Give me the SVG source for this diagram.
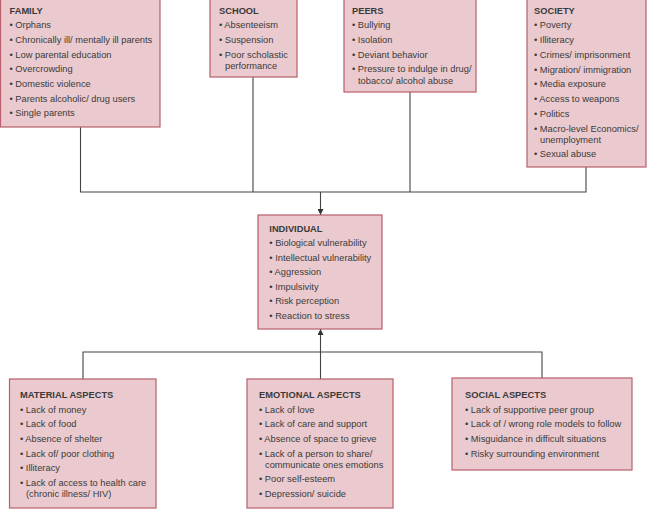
<svg xmlns="http://www.w3.org/2000/svg" width="647" height="509" viewBox="0 0 647 509">
<style>
.box{fill:#eacace;stroke:#b85e6c;stroke-width:1.2}
text{font-family:"Liberation Sans",Arial,sans-serif;font-size:9.3px;fill:#3a3a3a}
.t{font-weight:bold}
.c{fill:none;stroke:#444;stroke-width:1.1}
</style>
<defs>
<marker id="ah" viewBox="0 0 6 6" refX="6" refY="3" markerWidth="6" markerHeight="6" markerUnits="userSpaceOnUse" orient="auto">
<path d="M0,0 L6,3 L0,6 Z" fill="#333"/>
</marker>
</defs>
<rect width="647" height="509" fill="#fff"/>
<g id="connectors">
<path class="c" d="M80.5,127 V192 H586 V167"/>
<path class="c" d="M253,77 V192"/>
<path class="c" d="M410,92 V192"/>
<path class="c" d="M320.5,192 V215" marker-end="url(#ah)"/>
<path class="c" d="M83,379 V352 H542 V378"/>
<path class="c" d="M320.5,379 V352"/>
<path class="c" d="M320.5,352 V329" marker-end="url(#ah)"/>
</g>
<g id="family">
<rect class="box" x="0.5" y="-1" width="159.5" height="128"/>
<text class="t" x="9.5" y="13.5">FAMILY</text>
<text x="9.5" y="28.3">• Orphans</text>
<text x="9.5" y="43">• Chronically ill/ mentally ill parents</text>
<text x="9.5" y="57.6">• Low parental education</text>
<text x="9.5" y="72.3">• Overcrowding</text>
<text x="9.5" y="87">• Domestic violence</text>
<text x="9.5" y="101.7">• Parents alcoholic/ drug users</text>
<text x="9.5" y="116.3">• Single parents</text>
</g>
<g id="school">
<rect class="box" x="210" y="-1" width="87" height="78"/>
<text class="t" x="219" y="13.5">SCHOOL</text>
<text x="219" y="28.3">• Absenteeism</text>
<text x="219" y="43">• Suspension</text>
<text x="219" y="57.6">• Poor scholastic</text>
<text x="225" y="68.6">performance</text>
</g>
<g id="peers">
<rect class="box" x="344" y="-1" width="132" height="93"/>
<text class="t" x="352" y="13.5">PEERS</text>
<text x="352" y="28.3">• Bullying</text>
<text x="352" y="43">• Isolation</text>
<text x="352" y="57.6">• Deviant behavior</text>
<text x="352" y="72.3">• Pressure to indulge in drug/</text>
<text x="358" y="83.5">tobacco/ alcohol abuse</text>
</g>
<g id="society">
<rect class="box" x="527" y="-1" width="119" height="168"/>
<text class="t" x="534" y="13.5">SOCIETY</text>
<text x="534" y="28.3">• Poverty</text>
<text x="534" y="43.3">• Illiteracy</text>
<text x="534" y="57.6">• Crimes/ imprisonment</text>
<text x="534" y="72.6">• Migration/ immigration</text>
<text x="534" y="87.3">• Media exposure</text>
<text x="534" y="102">• Access to weapons</text>
<text x="534" y="116.6">• Politics</text>
<text x="534" y="131.6">• Macro-level Economics/</text>
<text x="540" y="142.6">unemployment</text>
<text x="534" y="157.3">• Sexual abuse</text>
</g>
<g id="individual">
<rect class="box" x="258" y="215" width="124" height="114"/>
<text class="t" x="269.3" y="231.5">INDIVIDUAL</text>
<text x="269.3" y="246">• Biological vulnerability</text>
<text x="269.3" y="260.6">• Intellectual vulnerability</text>
<text x="269.3" y="275">• Aggression</text>
<text x="269.3" y="289.5">• Impulsivity</text>
<text x="269.3" y="304">• Risk perception</text>
<text x="269.3" y="319">• Reaction to stress</text>
</g>
<g id="material">
<rect class="box" x="9.5" y="379" width="146.5" height="129"/>
<text class="t" x="20" y="397.5">MATERIAL ASPECTS</text>
<text x="20" y="412.6">• Lack of money</text>
<text x="20" y="427">• Lack of food</text>
<text x="20" y="441.6">• Absence of shelter</text>
<text x="20" y="456.6">• Lack of/ poor clothing</text>
<text x="20" y="471">• Illiteracy</text>
<text x="20" y="485.6">• Lack of access to health care</text>
<text x="26" y="496.6">(chronic illness/ HIV)</text>
</g>
<g id="emotional">
<rect class="box" x="247" y="379" width="146" height="129"/>
<text class="t" x="259" y="397.5">EMOTIONAL ASPECTS</text>
<text x="259" y="412.6">• Lack of love</text>
<text x="259" y="427">• Lack of care and support</text>
<text x="259" y="441.6">• Absence of space to grieve</text>
<text x="259" y="456.6">• Lack of a person to share/</text>
<text x="265" y="467.5">communicate ones emotions</text>
<text x="259" y="482">• Poor self-esteem</text>
<text x="259" y="497">• Depression/ suicide</text>
</g>
<g id="social">
<rect class="box" x="452" y="378" width="180" height="92"/>
<text class="t" x="465" y="397.5">SOCIAL ASPECTS</text>
<text x="465" y="412.6">• Lack of supportive peer group</text>
<text x="465" y="427">• Lack of / wrong role models to follow</text>
<text x="465" y="441.6">• Misguidance in difficult situations</text>
<text x="465" y="456.6">• Risky surrounding environment</text>
</g>
</svg>
